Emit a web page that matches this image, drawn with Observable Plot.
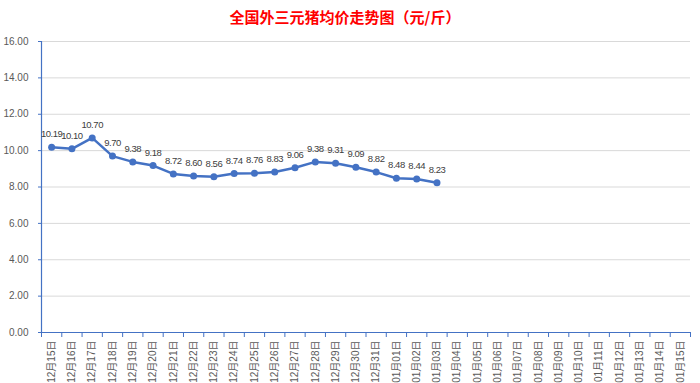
<!DOCTYPE html>
<html>
<head>
<meta charset="utf-8">
<script src="https://cdn.jsdelivr.net/npm/d3@7"></script>
<script src="https://cdn.jsdelivr.net/npm/@observablehq/plot@0.6"></script>
<style>
  body { margin: 0; background: #fff; }
  #title { height: 28px; padding-top: 2px; line-height: 30px; text-align: center; padding-right: 10px;
    font-family: "Noto Sans CJK SC", sans-serif; font-size: 15px; font-weight: bold; color: #FF0000; }
  #chart g[aria-label="text"] text { letter-spacing: -0.45px; }
</style>
</head>
<body>
<div id="title">全国外三元猪均价走势图（元/斤）</div>
<div id="chart"></div>
<script>
const categories = [
  "12月15日","12月16日","12月17日","12月18日","12月19日","12月20日","12月21日","12月22日",
  "12月23日","12月24日","12月25日","12月26日","12月27日","12月28日","12月29日","12月30日",
  "12月31日","01月01日","01月02日","01月03日","01月04日","01月05日","01月06日","01月07日",
  "01月08日","01月09日","01月10日","01月11日","01月12日","01月13日","01月14日","01月15日"
];
const values = [10.19, 10.10, 10.70, 9.70, 9.38, 9.18, 8.72, 8.60, 8.56, 8.74, 8.76, 8.83, 9.06, 9.38, 9.31, 9.09, 8.82, 8.48, 8.44, 8.23];
const yTicks = [0, 2, 4, 6, 8, 10, 12, 14, 16];

const data = values.map((v, i) => ({i, cat: categories[i], v}));
const blue = "#4472C4";

const chart = Plot.plot({
  width: 700,
  height: 353,
  marginTop: 11,
  marginLeft: 41,
  marginRight: 10,
  marginBottom: 51,
  style: {fontFamily: "'Liberation Sans','Noto Sans CJK SC',sans-serif", fontSize: "10px", background: "white"},
  x: {domain: [0, categories.length], axis: null},
  y: {domain: [0, 16], axis: null},
  marks: [
    Plot.gridY(yTicks, {stroke: "#D9D9D9", strokeOpacity: 1}),
    Plot.axisY(yTicks, {tickFormat: d => d.toFixed(2), tickSize: 3, tickPadding: 10, stroke: blue, fill: "#595959", fontSize: 10, label: null}),
    Plot.ruleX([0], {stroke: blue, strokeWidth: 1.2}),
    Plot.ruleY([0], {stroke: blue, strokeWidth: 1.2}),
    Plot.axisX(d3.range(categories.length + 1), {tickFormat: () => "", tickSize: 5, stroke: blue, label: null}),
    Plot.axisX(d3.range(categories.length).map(i => i + 0.5), {
      tickFormat: d => categories[Math.floor(d)], tickSize: 0, tickPadding: 8, tickRotate: -90,
      fill: "#595959", fontSize: 10, label: null
    }),
    Plot.line(data, {x: d => d.i + 0.5, y: "v", stroke: blue, strokeWidth: 2.5}),
    Plot.dot(data, {x: d => d.i + 0.5, y: "v", r: 3.5, fill: blue}),
    Plot.text(data, {x: d => d.i + 0.5, y: "v", text: d => d.v.toFixed(2), dy: -13, fill: "#404040", fontSize: 9.5})
  ]
});
document.getElementById("chart").appendChild(chart);
</script>
</body>
</html>
